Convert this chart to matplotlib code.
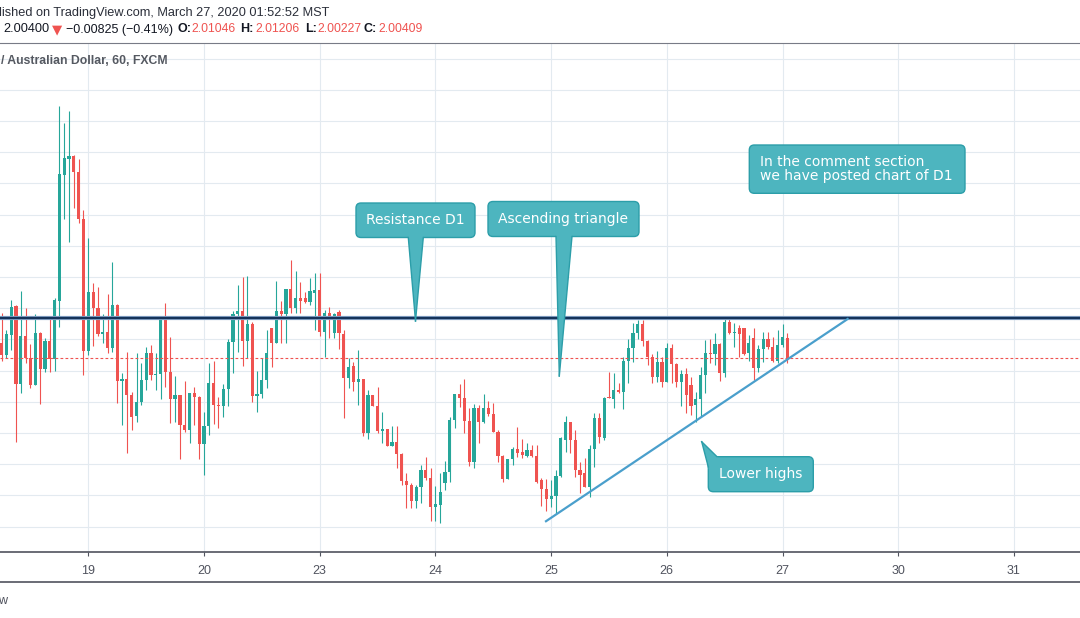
import numpy as np
import matplotlib
matplotlib.use("Agg")
import matplotlib.pyplot as plt
from matplotlib.patches import FancyBboxPatch, Polygon
from matplotlib.transforms import IdentityTransform
from matplotlib.lines import Line2D

W, H, DPI = 1080, 618, 100

# ---------------- data (GBP/AUD, 60 min, FXCM) ----------------
opens = [2.0089, 2.0050, 2.0115, 2.0207, 1.9958, 2.0111, 2.0039, 1.9954, 2.0121, 2.0006,
         2.0095, 2.0038, 2.0224, 2.0628, 2.0678, 2.0688, 2.0637, 2.0487, 2.0063, 2.0252,
         2.0201, 2.0117, 2.0123, 2.0073, 2.0210, 1.9966, 1.9973, 1.9922, 1.9855, 1.9898,
         1.9970, 2.0057, 1.9986, 1.9989, 2.0169, 1.9996, 1.9909, 1.9922, 1.9825, 1.9809,
         1.9927, 1.9916, 1.9764, 1.9822, 1.9961, 1.9889, 1.9887, 1.9940, 2.0091, 2.0181,
         2.0191, 2.0096, 2.0149, 1.9919, 1.9925, 1.9970, 2.0135, 2.0089, 2.0191, 2.0181,
         2.0260, 2.0201, 2.0231, 2.0231, 2.0221, 2.0249, 2.0258, 2.0124, 2.0185, 2.0119,
         2.0188, 2.0117, 1.9977, 2.0014, 1.9964, 1.9973, 1.9801, 1.9922, 1.9887, 1.9806,
         1.9812, 1.9759, 1.9770, 1.9731, 1.9647, 1.9633, 1.9583, 1.9628, 1.9681, 1.9656,
         1.9563, 1.9569, 1.9638, 1.9674, 1.9841, 1.9924, 1.9913, 1.9839, 1.9706, 1.9880,
         1.9836, 1.9880, 1.9860, 1.9804, 1.9727, 1.9652, 1.9715, 1.9747, 1.9740, 1.9727,
         1.9745, 1.9727, 1.9649, 1.9621, 1.9587, 1.9599, 1.9662, 1.9778, 1.9834, 1.9778,
         1.9681, 1.9672, 1.9628, 1.9747, 1.9849, 1.9785, 1.9916, 1.9909, 1.9938, 1.9932,
         2.0030, 2.0071, 2.0121, 2.0149, 2.0096, 2.0042, 1.9980, 2.0027, 1.9964, 2.0071,
         2.0021, 1.9964, 1.9989, 1.9954, 1.9889, 1.9909, 1.9986, 2.0057, 2.0052, 2.0084,
         1.9993, 2.0156, 2.0121, 2.0137, 2.0135, 2.0055, 2.0105, 2.0007, 2.0068, 2.0100,
         2.0074, 2.0031, 2.0082, 2.0105]
highs = [2.0183, 2.0130, 2.0226, 2.0210, 2.0255, 2.0201, 2.0085, 2.0181, 2.0123, 2.0105,
         2.0175, 2.0233, 2.0848, 2.0793, 2.0832, 2.0690, 2.0678, 2.0514, 2.0425, 2.0281,
         2.0268, 2.0181, 2.0245, 2.0348, 2.0213, 1.9991, 2.0060, 1.9931, 2.0057, 2.0025,
         2.0076, 2.0082, 2.0055, 2.0175, 2.0217, 2.0106, 1.9982, 1.9923, 1.9966, 1.9928,
         1.9948, 1.9919, 1.9866, 2.0025, 2.0030, 1.9916, 1.9957, 2.0100, 2.0191, 2.0274,
         2.0301, 2.0303, 2.0156, 1.9999, 2.0039, 2.0130, 2.0136, 2.0287, 2.0223, 2.0261,
         2.0354, 2.0319, 2.0283, 2.0253, 2.0296, 2.0313, 2.0313, 2.0194, 2.0204, 2.0184,
         2.0194, 2.0130, 2.0039, 2.0028, 2.0066, 1.9974, 1.9938, 1.9923, 1.9948, 1.9866,
         1.9812, 1.9822, 1.9822, 1.9737, 1.9671, 1.9638, 1.9633, 1.9697, 1.9724, 1.9687,
         1.9630, 1.9671, 1.9710, 1.9850, 1.9925, 1.9956, 1.9973, 1.9879, 1.9892, 1.9889,
         1.9925, 1.9903, 1.9895, 1.9809, 1.9729, 1.9716, 1.9756, 1.9820, 1.9780, 1.9769,
         1.9761, 1.9761, 1.9654, 1.9651, 1.9649, 1.9681, 1.9786, 1.9855, 1.9836, 1.9809,
         1.9708, 1.9719, 1.9761, 1.9863, 1.9863, 1.9914, 1.9996, 1.9993, 1.9959, 2.0044,
         2.0100, 2.0151, 2.0162, 2.0162, 2.0098, 2.0052, 2.0063, 2.0042, 2.0087, 2.0085,
         2.0025, 2.0002, 2.0009, 1.9980, 1.9932, 2.0012, 2.0098, 2.0100, 2.0119, 2.0087,
         2.0164, 2.0164, 2.0151, 2.0146, 2.0137, 2.0114, 2.0137, 2.0082, 2.0124, 2.0124,
         2.0106, 2.0130, 2.0149, 2.0121]
lows = [2.0031, 2.0039, 2.0066, 1.9772, 1.9929, 2.0023, 1.9945, 1.9952, 1.9893, 1.9996,
        1.9996, 1.9999, 2.0140, 2.0487, 2.0413, 2.0522, 2.0474, 1.9986, 2.0050, 2.0079,
        2.0111, 2.0089, 2.0057, 2.0060, 1.9897, 1.9825, 1.9737, 1.9809, 1.9836, 1.9889,
        1.9938, 1.9970, 1.9938, 1.9909, 1.9948, 1.9833, 1.9836, 1.9716, 1.9804, 1.9769,
        1.9825, 1.9716, 1.9665, 1.9793, 1.9829, 1.9815, 1.9852, 1.9887, 1.9991, 2.0060,
        2.0015, 2.0039, 1.9898, 1.9868, 1.9913, 1.9943, 2.0012, 2.0088, 2.0089, 2.0087,
        2.0183, 2.0183, 2.0183, 2.0215, 2.0210, 2.0130, 2.0111, 2.0044, 2.0103, 2.0103,
        2.0069, 1.9849, 1.9945, 1.9935, 1.9889, 1.9791, 1.9780, 1.9886, 1.9801, 1.9769,
        1.9758, 1.9758, 1.9687, 1.9633, 1.9560, 1.9560, 1.9560, 1.9576, 1.9649, 1.9519,
        1.9519, 1.9512, 1.9617, 1.9644, 1.9817, 1.9884, 1.9799, 1.9694, 1.9687, 1.9769,
        1.9831, 1.9854, 1.9803, 1.9708, 1.9644, 1.9651, 1.9697, 1.9724, 1.9719, 1.9722,
        1.9722, 1.9638, 1.9566, 1.9551, 1.9563, 1.9540, 1.9660, 1.9738, 1.9735, 1.9660,
        1.9606, 1.9626, 1.9596, 1.9692, 1.9767, 1.9777, 1.9912, 1.9879, 1.9929, 1.9877,
        1.9959, 2.0028, 2.0100, 2.0079, 2.0018, 1.9961, 1.9964, 1.9948, 1.9962, 1.9959,
        1.9946, 1.9886, 1.9863, 1.9857, 1.9836, 1.9854, 1.9927, 2.0023, 2.0018, 1.9966,
        1.9978, 2.0116, 2.0076, 2.0044, 2.0050, 2.0031, 1.9970, 1.9996, 2.0028, 2.0068,
        2.0028, 2.0023, 2.0076, 2.0023]
closes = [2.0050, 2.0117, 2.0203, 1.9958, 2.0111, 2.0039, 1.9954, 2.0121, 2.0006, 2.0095,
          2.0038, 2.0226, 2.0630, 2.0681, 2.0688, 2.0637, 2.0487, 2.0063, 2.0252, 2.0201,
          2.0117, 2.0123, 2.0073, 2.0210, 1.9966, 1.9973, 1.9922, 1.9852, 1.9898, 1.9970,
          2.0057, 1.9986, 1.9989, 2.0169, 1.9996, 1.9909, 1.9922, 1.9825, 1.9809, 1.9927,
          1.9916, 1.9764, 1.9822, 1.9961, 1.9889, 1.9887, 1.9940, 2.0091, 2.0181, 2.0191,
          2.0096, 2.0149, 1.9919, 1.9925, 1.9970, 2.0055, 2.0089, 2.0191, 2.0181, 2.0260,
          2.0201, 2.0231, 2.0223, 2.0221, 2.0255, 2.0258, 2.0124, 2.0185, 2.0167, 2.0181,
          2.0119, 1.9977, 2.0012, 1.9964, 1.9973, 1.9801, 1.9922, 1.9887, 1.9806, 1.9812,
          1.9759, 1.9770, 1.9731, 1.9647, 1.9633, 1.9583, 1.9628, 1.9681, 1.9656, 1.9563,
          1.9572, 1.9610, 1.9674, 1.9841, 1.9924, 1.9913, 1.9839, 1.9706, 1.9880, 1.9836,
          1.9880, 1.9860, 1.9804, 1.9727, 1.9652, 1.9715, 1.9747, 1.9737, 1.9729, 1.9745,
          1.9727, 1.9642, 1.9621, 1.9587, 1.9599, 1.9662, 1.9785, 1.9834, 1.9778, 1.9681,
          1.9665, 1.9628, 1.9747, 1.9849, 1.9788, 1.9913, 1.9913, 1.9938, 1.9932, 2.0030,
          2.0071, 2.0121, 2.0149, 2.0096, 2.0042, 1.9980, 2.0027, 1.9964, 2.0071, 2.0021,
          1.9964, 1.9989, 1.9922, 1.9886, 1.9909, 1.9986, 2.0055, 2.0052, 2.0084, 1.9993,
          2.0156, 2.0121, 2.0124, 2.0116, 2.0052, 2.0087, 2.0007, 2.0068, 2.0100, 2.0074,
          2.0031, 2.0082, 2.0108, 2.0041]

first_bar = -18          # bar index of first visible candle (19 Mar 00:00 = 0)
bars_per_day = 24
day_labels = ["19", "20", "23", "24", "25", "26", "27", "30", "31"]

resistance_d1 = 2.0167
last_price = 2.00409
trend_bars = [94.75, 157.7]
trend_prices = [1.9515, 2.0167]

header_line1 = "lished on TradingView.com, March 27, 2020 01:52:52 MST"
last_text = "2.00400"
change_text = "\u22120.00825 (\u22120.41%)"
ohlc_labels = ["O:", "H:", "L:", "C:"]
ohlc_values = ["2.01046", "2.01206", "2.00227", "2.00409"]
symbol_text = "/ Australian Dollar, 60, FXCM"

# ---------------- figure ----------------
UP, DOWN = "#26a69a", "#ef5350"
GRID = "#e3eaf0"
AXC = "#50535e"

fig = plt.figure(figsize=(W / DPI, H / DPI), dpi=DPI)
fig.patch.set_facecolor("white")
ax = fig.add_axes([0, (H - 552) / H, 1, (552 - 43) / H])
ax.set_facecolor("white")

n = len(opens)
assert len(highs) == n and len(lows) == n and len(closes) == n
o = np.array(opens); c = np.array(closes)
h = np.maximum(np.array(highs), np.maximum(o, c))
l = np.minimum(np.array(lows), np.minimum(o, c))
x = first_bar + np.arange(n)
cols = np.where(c >= o, UP, DOWN)

ax.vlines(x, l, h, colors=cols, lw=0.8, zorder=3)
bot = np.minimum(o, c)
hgt = np.maximum(np.abs(c - o), 0.00033)
ax.bar(x, hgt, bottom=bot, width=0.66, color=cols, lw=0, zorder=4)

ax.set_xlim(-18.32, 205.71)
ax.set_ylim(1.94183, 2.10497)

ax.set_axisbelow(True)
ax.set_yticks(np.round(np.arange(1.95, 2.1001, 0.01), 2))
ax.set_xticks(np.arange(len(day_labels)) * bars_per_day)
ax.set_xticklabels(day_labels)
ax.grid(True, color=GRID, lw=0.8)
ax.tick_params(axis="y", left=False, right=False, labelleft=False)
ax.tick_params(axis="x", length=3, width=0.8, color=AXC, pad=6,
               labelsize=9, labelcolor=AXC)
for lab in ax.get_xticklabels():
    lab.set_fontfamily("Liberation Sans")
for s in ("left", "right"):
    ax.spines[s].set_visible(False)
ax.spines["top"].set_color("#787b86")
ax.spines["top"].set_linewidth(0.8)
ax.spines["bottom"].set_color(AXC)
ax.spines["bottom"].set_linewidth(1.2)

ax.axhline(resistance_d1, color="#7f9cc0", lw=3.0, zorder=5)
ax.axhline(resistance_d1, color="#15335a", lw=1.5, zorder=6)
ax.axhline(last_price, color=DOWN, lw=0.8, ls=(0, (2.5, 2)), zorder=5)
ax.plot(trend_bars, trend_prices, color="#4a9fcc", lw=1.6, zorder=6,
        solid_capstyle="butt")

fig.add_artist(Line2D([0, 1], [(H - 581.5) / H] * 2, transform=fig.transFigure,
                      color=AXC, lw=1.2))

ID = IdentityTransform()


def P(px, py):
    return (px, H - py)


def ftext(px, py, s, **kw):
    fig.text(px, H - py, s, transform=ID, **kw)


FILL, EDGE = "#4db5bf", "#2c9ea9"


def rbox(box, z=30):
    x0, y0, x1, y1 = box
    fig.add_artist(FancyBboxPatch(P(x0, y1), x1 - x0, y1 - y0,
                                  boxstyle="round,pad=0,rounding_size=5",
                                  facecolor=FILL, edgecolor=EDGE, lw=1.0,
                                  transform=ID, zorder=z))


def callout(box, tip, base, z=30):
    rbox(box, z)
    tx, ty = tip
    ext = []
    for bxp, byp in base:
        dx, dy = bxp - tx, byp - ty
        L = np.hypot(dx, dy)
        k = 1 + 3.0 / L
        ext.append((tx + dx * k, ty + dy * k))
    tri = Polygon([P(tx, ty)] + [P(*e) for e in ext], closed=True,
                  facecolor=FILL, edgecolor="none", transform=ID, zorder=z + 1)
    fig.add_artist(tri)
    for bxp, byp in base:
        fig.add_artist(Line2D([tx, bxp], [H - ty, H - byp], transform=ID,
                              color=EDGE, lw=1.0, zorder=z + 2))


TXT = dict(color="white", fontsize=10, family="DejaVu Sans", zorder=40)

callout((356, 203, 475, 237.5), (415.5, 321), [(408.3, 237.5), (423.3, 237.5)])
ftext(415.5, 220, "Resistance D1", ha="center", va="center", **TXT)

callout((488, 201.5, 639, 236.5), (559.3, 376), [(556, 236.5), (572, 236.5)])
ftext(563.5, 219, "Ascending triangle", ha="center", va="center", **TXT)

rbox((749.3, 145, 965, 193.3))
ftext(760, 162.3, "In the comment section", ha="left", va="center", **TXT)
ftext(760, 175.9, "we have posted chart of D1", ha="left", va="center", **TXT)

callout((708.3, 456.7, 813.3, 491.7), (701.7, 441.7), [(708.3, 467), (717, 456.7)])
ftext(760.8, 474.2, "Lower highs", ha="center", va="center", **TXT)

# header texts
HF = "Liberation Sans"
ftext(-1, 13, header_line1, ha="left", va="center", fontsize=9.2,
      family=HF, color="#2a2e39")
ftext(3, 29.5, last_text, ha="left", va="center", fontsize=9.2, family=HF, color="#131722")
ftext(52, 29.5, "\u25bc", ha="left", va="center", fontsize=9.5, family="DejaVu Sans", color=DOWN)
ftext(66, 29.5, change_text, ha="left", va="center", fontsize=9.0, family=HF, color="#131722")
lab_x = [177, 240, 305, 364]
val_x = [191, 255, 317, 378]
for lx, vx, lb, vv in zip(lab_x, val_x, ohlc_labels, ohlc_values):
    ftext(lx, 29.5, lb, ha="left", va="center", fontsize=9.0, family=HF,
          color="#131722", fontweight="bold")
    ftext(vx, 29.5, vv, ha="left", va="center", fontsize=8.8, family=HF, color=DOWN)

ftext(1, 60.5, symbol_text, ha="left", va="center", fontsize=8.8, family=HF,
      color="#555961", fontweight="bold")
ftext(-2, 600.5, "w", ha="left", va="center", fontsize=9, family=HF, color=AXC)

fig.savefig("out.png", dpi=DPI, facecolor="white")
